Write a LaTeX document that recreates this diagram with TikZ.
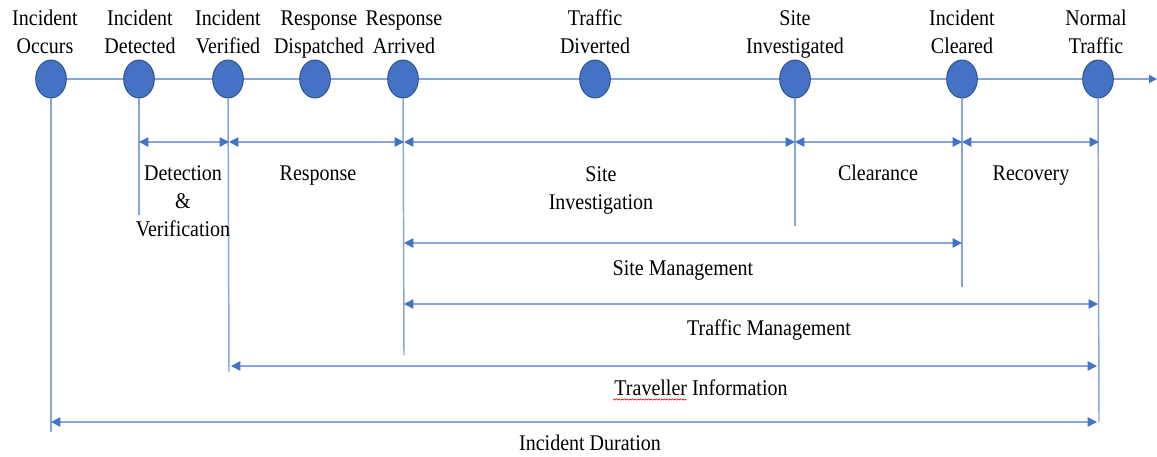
\documentclass[tikz,border=0pt]{standalone}
\usepackage{fontspec}
\usepackage{graphicx}
\setmainfont{Liberation Serif}
\usetikzlibrary{arrows.meta,shapes.geometric,decorations.pathmorphing}
\definecolor{evfill}{HTML}{4472C4}
\definecolor{evdraw}{HTML}{2F528F}
\definecolor{lnc}{HTML}{87A5DA}
\newcommand\mylab[1]{\scalebox{1}[1.12]{\begin{tabular}{@{}c@{}}#1\end{tabular}}}
\begin{document}
\begin{tikzpicture}[x=0.75pt,y=-0.75pt,
  ev/.style={ellipse,fill=evfill,draw=evdraw,line width=0.7pt,minimum width=23pt,minimum height=28.5pt,inner sep=0pt},
  lbl/.style={font=\fontsize{15}{18.75}\selectfont,inner sep=0pt},
  ln/.style={draw=lnc,line width=1.1pt},
  >={Triangle[length=7pt,width=7pt,color=evfill]}
]
\useasboundingbox (0,0) rectangle (1157,457);
% axis
\coordinate (axs) at (51,79);
\coordinate (axe) at (1157,79);
\draw[ln,-{Triangle[length=6pt,width=6pt,color=evfill]}] (axs) -- (axe);
% events
\node[ev] (e1) at (51,79) {};
\node[ev] (e2) at (139,79) {};
\node[ev] (e3) at (228,79) {};
\node[ev] (e4) at (315,79) {};
\node[ev] (e5) at (403,79) {};
\node[ev] (e6) at (595,79) {};
\node[ev] (e7) at (795,79) {};
\node[ev] (e8) at (962,79) {};
\node[ev] (e9) at (1098,79) {};
% event labels
\node[lbl] (t1) at (45,34) {\mylab{Incident\\Occurs}};
\node[lbl] (t2) at (140,34) {\mylab{Incident\\Detected}};
\node[lbl] (t3) at (228,34) {\mylab{Incident\\Verified}};
\node[lbl] (t4) at (319,34) {\mylab{Response\\Dispatched}};
\node[lbl] (t5) at (404,34) {\mylab{Response\\Arrived}};
\node[lbl] (t6) at (595,34) {\mylab{Traffic\\Diverted}};
\node[lbl] (t7) at (795,34) {\mylab{Site\\Investigated}};
\node[lbl] (t8) at (962,34) {\mylab{Incident\\Cleared}};
\node[lbl] (t9) at (1096,34) {\mylab{Normal\\Traffic}};
% vertical drop lines
\coordinate (v1) at (51,432);
\coordinate (v2) at (139,215);
\coordinate (v3) at (229,372);
\coordinate (v5) at (404,355);
\coordinate (v7) at (795,226);
\coordinate (v8) at (962,287);
\coordinate (v9) at (1099,422);
\draw[ln] (e1) -- (v1);
\draw[ln] (e2) -- (v2);
\draw[ln] (e3) -- (v3);
\draw[ln] (e5) -- (v5);
\draw[ln] (e7) -- (v7);
\draw[ln] (e8) -- (v8);
\draw[ln] (e9) -- (v9);
% phase arrows
\coordinate (r2) at (139,142);
\coordinate (r3) at (229,142);
\coordinate (r5) at (404,142);
\coordinate (r7) at (795,142);
\coordinate (r8) at (962,142);
\coordinate (r9) at (1099,142);
\draw[ln,<->] (r2) -- (r3);
\draw[ln,<->] (r3) -- (r5);
\draw[ln,<->] (r5) -- (r7);
\draw[ln,<->] (r7) -- (r8);
\draw[ln,<->] (r8) -- (r9);
\node[lbl] (p1) at (183,203) {\mylab{Detection\\\&\\Verification}};
\node[lbl] (p2) at (318,175) {\mylab{Response}};
\node[lbl] (p3) at (601,190) {\mylab{Site\\Investigation}};
\node[lbl] (p4) at (878,175) {\mylab{Clearance}};
\node[lbl] (p5) at (1031,175) {\mylab{Recovery}};
% management spans
\coordinate (sm1) at (404,243);
\coordinate (sm2) at (962,243);
\draw[ln,<->] (sm1) -- (sm2);
\node[lbl] (q1) at (683,270) {\mylab{Site Management}};
\coordinate (tm1) at (404,304);
\coordinate (tm2) at (1098,304);
\draw[ln,<->] (tm1) -- (tm2);
\node[lbl] (q2) at (769,330) {\mylab{Traffic Management}};
\coordinate (ti1) at (231,366);
\coordinate (ti2) at (1097,366);
\draw[ln,<->] (ti1) -- (ti2);
\node[lbl] (q3) at (701,390) {\mylab{Traveller Information}};
\coordinate (sq1) at (613,399.5);
\coordinate (sq2) at (686,399.5);
\draw[red!85!black,line width=0.4pt,decorate,decoration={snake,amplitude=0.5pt,segment length=2pt}] (sq1) -- (sq2);
\coordinate (id1) at (51,422);
\coordinate (id2) at (1097,422);
\draw[ln,<->] (id1) -- (id2);
\node[lbl] (q4) at (590,445) {\mylab{Incident Duration}};
\end{tikzpicture}
\end{document}
